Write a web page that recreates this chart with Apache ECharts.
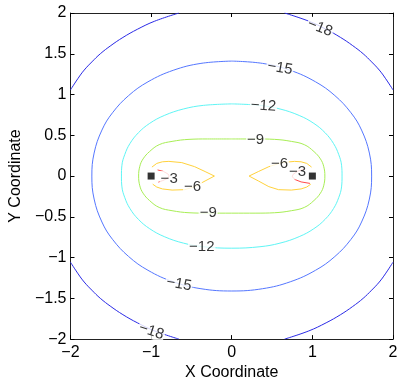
<!DOCTYPE html>
<html>
<head>
<meta charset="utf-8">
<script src="https://cdn.jsdelivr.net/npm/echarts@6/dist/echarts.min.js"></script>
<style>
html, body { margin: 0; padding: 0; background: #fff; }
#chart { width: 402px; height: 386px; }
</style>
</head>
<body>
<div id="chart"></div>
<script>
var xTicks = [-2, -1, 0, 1, 2];
var yTicks = [-2, -1.5, -1, -0.5, 0, 0.5, 1, 1.5, 2];
var levels = [-18, -15, -12, -9, -6, -3];
var charges = [[-1, 0], [1, 0]];

// contour pieces, [x, y]
var c18 = [
    [[-0.655, 2], [-0.955, 1.9], [-1.171, 1.8], [-1.35, 1.7], [-1.5, 1.6], [-1.63, 1.5], [-1.735, 1.4], [-1.83, 1.3], [-1.905, 1.2], [-2, 1.057]],
    [[0.655, 2], [0.955, 1.9], [1.171, 1.8], [1.35, 1.7], [1.5, 1.6], [1.63, 1.5], [1.735, 1.4], [1.83, 1.3], [1.905, 1.2], [2, 1.057]],
    [[-0.655, -2], [-0.955, -1.9], [-1.171, -1.8], [-1.35, -1.7], [-1.5, -1.6], [-1.63, -1.5], [-1.735, -1.4], [-1.83, -1.3], [-1.905, -1.2], [-2, -1.057]],
    [[0.655, -2], [0.955, -1.9], [1.171, -1.8], [1.35, -1.7], [1.5, -1.6], [1.63, -1.5], [1.735, -1.4], [1.83, -1.3], [1.905, -1.2], [2, -1.057]]
];
var c15 = [
    [[0, 1.41], [0.382, 1.382], [0.726, 1.297], [1.039, 1.156], [1.279, 0.987], [1.479, 0.776], [1.61, 0.564], [1.707, 0.282], [1.735, 0],
     [1.707, -0.282], [1.61, -0.564], [1.479, -0.776], [1.279, -0.987], [1.039, -1.156], [0.726, -1.297], [0.382, -1.382], [0, -1.41],
     [-0.382, -1.382], [-0.726, -1.297], [-1.039, -1.156], [-1.279, -0.987], [-1.479, -0.776], [-1.61, -0.564], [-1.707, -0.282], [-1.735, 0],
     [-1.707, 0.282], [-1.61, 0.564], [-1.479, 0.776], [-1.279, 0.987], [-1.039, 1.156], [-0.726, 1.297], [-0.382, 1.382], [0, 1.41]]
];
var c12 = [
    [[0, 0.885], [0.35, 0.867], [0.598, 0.823], [0.837, 0.743], [1.018, 0.646], [1.158, 0.531], [1.263, 0.398], [1.326, 0.266], [1.362, 0.133], [1.368, 0],
     [1.362, -0.133], [1.326, -0.266], [1.263, -0.398], [1.158, -0.531], [1.018, -0.646], [0.837, -0.743], [0.598, -0.823], [0.35, -0.867], [0, -0.885],
     [-0.35, -0.867], [-0.598, -0.823], [-0.837, -0.743], [-1.018, -0.646], [-1.158, -0.531], [-1.263, -0.398], [-1.326, -0.266], [-1.362, -0.133], [-1.368, 0],
     [-1.362, 0.133], [-1.326, 0.266], [-1.263, 0.398], [-1.158, 0.531], [-1.018, 0.646], [-0.837, 0.743], [-0.598, 0.823], [-0.35, 0.867], [0, 0.885]]
];
var c9 = [
    [[0, 0.455], [0.3, 0.455], [0.53, 0.45], [0.74, 0.425], [0.9, 0.385], [1.02, 0.30], [1.10, 0.21], [1.14, 0.12], [1.155, 0],
     [1.14, -0.12], [1.10, -0.21], [1.02, -0.30], [0.9, -0.385], [0.74, -0.425], [0.53, -0.45], [0.3, -0.455], [0, -0.455],
     [-0.3, -0.455], [-0.53, -0.45], [-0.74, -0.425], [-0.9, -0.385], [-1.02, -0.30], [-1.10, -0.21], [-1.14, -0.12], [-1.155, 0],
     [-1.14, 0.12], [-1.10, 0.21], [-1.02, 0.30], [-0.9, 0.385], [-0.74, 0.425], [-0.53, 0.45], [-0.3, 0.455], [0, 0.455]]
];
var c6 = [
    [[-0.99, 0.11], [-0.93, 0.155], [-0.86, 0.175], [-0.78, 0.18], [-0.62, 0.165], [-0.46, 0.115], [-0.33, 0.055], [-0.215, 0],
     [-0.33, -0.06], [-0.46, -0.13], [-0.58, -0.167], [-0.74, -0.172], [-0.86, -0.158], [-0.93, -0.135], [-0.98, -0.1]],
    [[0.99, 0.11], [0.93, 0.155], [0.86, 0.175], [0.78, 0.18], [0.62, 0.165], [0.46, 0.115], [0.33, 0.055], [0.215, 0],
     [0.33, -0.06], [0.46, -0.13], [0.58, -0.167], [0.74, -0.172], [0.86, -0.158], [0.93, -0.135], [0.98, -0.1]]
];
var c3 = [
    [[-0.92, 0.075], [-0.85, 0.058], [-0.79, 0.025], [-0.775, 0], [-0.8, -0.03], [-0.86, -0.057], [-0.91, -0.075]],
    [[0.90, 0.085], [0.82, 0.06], [0.76, 0.02], [0.75, -0.01], [0.79, -0.045], [0.86, -0.072], [0.97, -0.09]]
];
var contours = [c18, c15, c12, c9, c6, c3];

// inline contour labels: x, y, level, angle
var labelX = [1.094, 0.598, 0.393, 0.296, 0.594, 0.816, -0.776, -0.486, -0.292, -0.372, -0.655, -0.997];
var labelY = [1.818, 1.325, 0.86, 0.45, 0.155, 0.055, -0.03, -0.127, -0.452, -0.864, -1.325, -1.905];
var labelLevel = [-18, -15, -12, -9, -6, -3, -3, -6, -9, -12, -15, -18];
var labelAngle = [-22, -10, -4, 0, 0, 0, 0, 0, 0, 0, -10, -18];

var colors = ['#2a2ae6', '#5577ff', '#5ff5f5', '#a8ee55', '#ffd23c', '#ff4a4a'];
var font = "'Liberation Sans', Arial, sans-serif";

function minus(v) {
    return v < 0 ? '\u2212' + Math.abs(v) : String(v);
}

var myChart = echarts.init(document.getElementById('chart'));

var series = [];
contours.forEach(function (pieces, i) {
    pieces.forEach(function (pts) {
        series.push({
            type: 'line',
            data: pts,
            showSymbol: false,
            smooth: i < 4 ? 0.4 : false,
            lineStyle: { color: colors[i], width: 1 },
            silent: true,
            z: 2
        });
    });
});

series.push({
    type: 'scatter',
    data: labelX.map(function (x, i) {
        return {
            value: [x, labelY[i]],
            label: { formatter: minus(labelLevel[i]), rotate: labelAngle[i] }
        };
    }),
    symbolSize: 1,
    itemStyle: { color: 'rgba(0,0,0,0)' },
    label: {
        show: true,
        position: 'inside',
        color: '#000',
        fontSize: 15,
        fontFamily: font,
        backgroundColor: '#fff',
        padding: [0, 1]
    },
    silent: true,
    z: 5
});

series.push({
    type: 'scatter',
    data: charges,
    symbol: 'rect',
    symbolSize: 7,
    itemStyle: { color: '#000' },
    silent: true,
    z: 6
});

var tickStyle = { show: true, inside: true, length: 4, lineStyle: { color: '#000' } };
var lineStyle = { show: true, onZero: false, lineStyle: { color: '#222', width: 1 } };

option = {
    animation: false,
    backgroundColor: '#fff',
    grid: { left: 62, right: 9, top: 13, bottom: 42 },
    xAxis: [{
        type: 'value',
        min: xTicks[0],
        max: xTicks[xTicks.length - 1],
        interval: xTicks[1] - xTicks[0],
        name: 'X Coordinate',
        nameLocation: 'middle',
        nameGap: 22,
        nameTextStyle: { color: '#000', fontSize: 16, fontFamily: font },
        axisLine: lineStyle,
        axisTick: tickStyle,
        splitLine: { show: false },
        axisLabel: { color: '#000', fontSize: 16, fontFamily: font, margin: 5, formatter: minus }
    }, {
        type: 'value',
        position: 'top',
        min: xTicks[0],
        max: xTicks[xTicks.length - 1],
        interval: xTicks[1] - xTicks[0],
        axisLine: lineStyle,
        axisTick: tickStyle,
        splitLine: { show: false },
        axisLabel: { show: false }
    }],
    yAxis: [{
        type: 'value',
        min: yTicks[0],
        max: yTicks[yTicks.length - 1],
        interval: yTicks[1] - yTicks[0],
        name: 'Y Coordinate',
        nameLocation: 'middle',
        nameGap: 42,
        nameTextStyle: { color: '#000', fontSize: 16, fontFamily: font },
        axisLine: lineStyle,
        axisTick: tickStyle,
        splitLine: { show: false },
        axisLabel: { color: '#000', fontSize: 16, fontFamily: font, margin: 4, formatter: minus }
    }, {
        type: 'value',
        position: 'right',
        min: yTicks[0],
        max: yTicks[yTicks.length - 1],
        interval: yTicks[1] - yTicks[0],
        axisLine: lineStyle,
        axisTick: tickStyle,
        splitLine: { show: false },
        axisLabel: { show: false }
    }],
    series: series
};

myChart.setOption(option);
</script>
</body>
</html>
